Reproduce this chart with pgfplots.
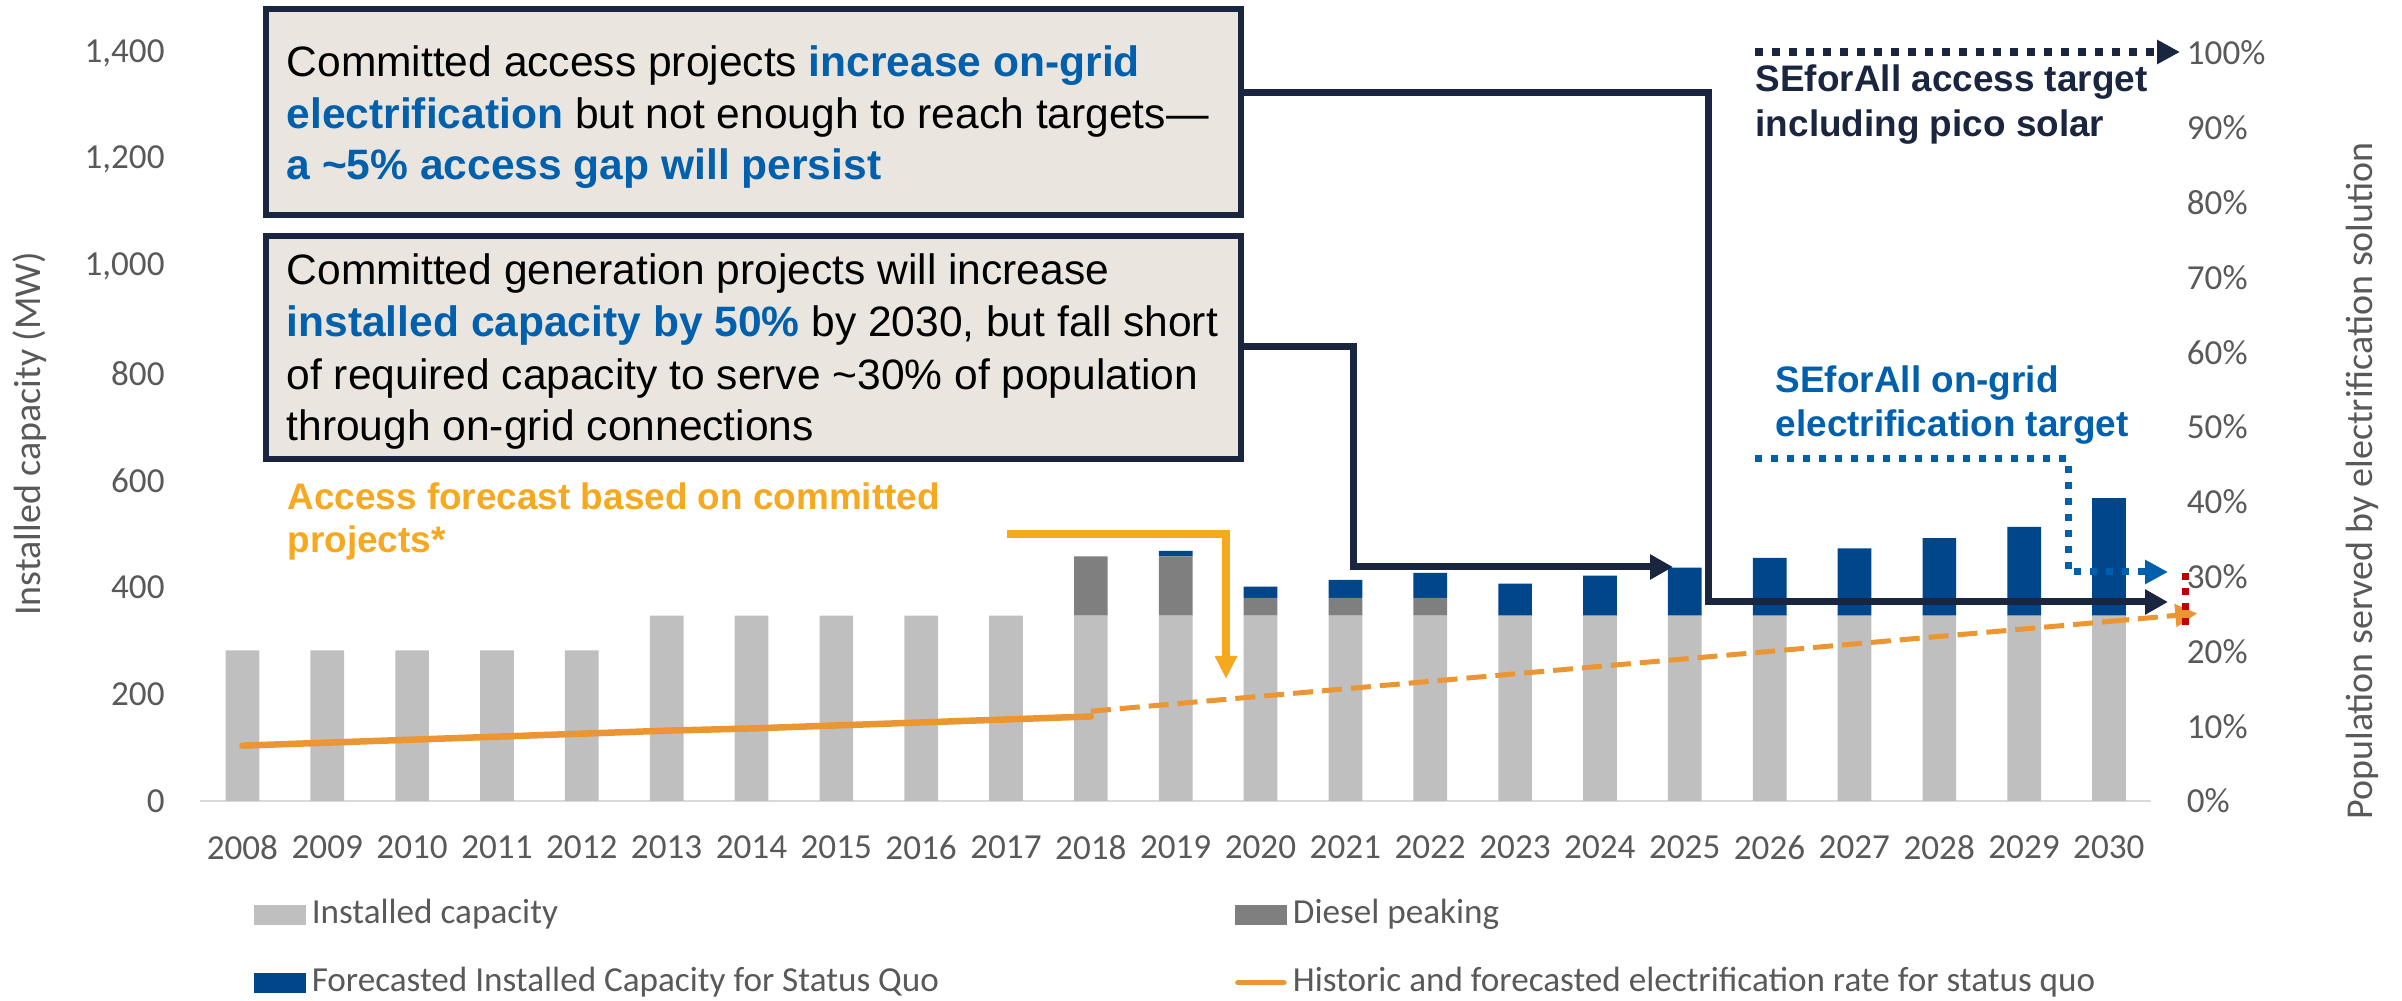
\documentclass[border=0pt]{standalone}
\usepackage{pgfplots}
\pgfplotsset{compat=1.18}
\usepackage{pgfplotstable}
\usepackage{fontspec}
\setmainfont{Carlito}
\newfontfamily\arialf{Liberation Sans}
\usetikzlibrary{arrows.meta}

\definecolor{instgray}{HTML}{BFBFBF}
\definecolor{dieselgray}{HTML}{7F7F7F}
\definecolor{fcblue}{HTML}{00468B}
\definecolor{lineorange}{HTML}{EB9632}
\definecolor{accorange}{HTML}{F6A81E}
\definecolor{textblue}{HTML}{0060AE}
\definecolor{navy}{HTML}{1A2540}
\definecolor{boxfill}{HTML}{EAE6DF}
\definecolor{tickgray}{HTML}{595959}
\definecolor{axisgray}{HTML}{D9D9D9}
\definecolor{dotred}{HTML}{C00000}

\pgfplotsset{barlegend/.style={legend image code/.code={\fill[##1] (0mm,-1mm) rectangle (5.2mm,1mm);}}}

\pgfplotstableread{
year inst diesel fcst
2008 282 0 0
2009 282 0 0
2010 282 0 0
2011 282 0 0
2012 282 0 0
2013 347 0 0
2014 347 0 0
2015 347 0 0
2016 347 0 0
2017 347 0 0
2018 347 111 0
2019 347 111 10
2020 347 33 21
2021 347 33 34
2022 347 33 47
2023 347 0 60
2024 347 0 75
2025 347 0 90
2026 347 0 108
2027 347 0 126
2028 347 0 145
2029 347 0 166
2030 347 0 220
}\capdata

\pgfplotstableread{
year rate
2008 7.4
2009 7.8
2010 8.2
2011 8.6
2012 9.0
2013 9.4
2014 9.7
2015 10.1
2016 10.5
2017 10.9
2018 11.3
}\histrate

\pgfplotstableread{
year rate
2018 12.0
2019 13.0
2020 14.0
2021 15.0
2022 16.0
2023 17.0
2024 18.0
2025 19.0
2026 20.0
2027 21.0
2028 22.0
2029 23.0
2030 24.0
}\fcastrate

\begin{document}
\begin{tikzpicture}
\begin{axis}[
  scale only axis, width=195.15mm, height=74.8mm,
  xmin=2007.5, xmax=2030.5, ymin=0, ymax=1400,
  ybar stacked, bar width=3.37mm,
  xtick={2008,2009,...,2030}, ytick={0,200,...,1400},
  axis x line*=bottom, axis y line*=left,
  x axis line style={draw=axisgray, line width=0.25mm},
  y axis line style={draw=none},
  major tick length=0pt,
  tick label style={font=\fontsize{10}{12}\selectfont, text=tickgray, /pgf/number format/assume math mode=true},
  x tick label style={/pgf/number format/1000 sep={}, yshift=-2.25mm},
  y tick label style={/pgf/number format/1000 sep={,}, xshift=-2.3mm},
  ylabel={Installed capacity (MW)},
  ylabel style={at={(axis description cs:-0.0871,0.491)}, anchor=center, font=\fontsize{10.8}{13}\selectfont, text=tickgray},
  legend columns=2,
  legend cell align=left,
  legend style={at={(axis description cs:0.0272,-0.1303)}, anchor=north west, draw=none, fill=none, inner sep=0pt,
    font=\fontsize{10}{12}\selectfont, text=tickgray, row sep=3.7mm,
    nodes={inner xsep=0.6mm, inner ysep=0pt, text height=2.4mm, text depth=0.7mm},
    /tikz/every even column/.append style={column sep=29mm}},
]
\addplot[fill=instgray, draw=none, barlegend] table[x=year, y=inst]{\capdata};
\addlegendentry{Installed capacity}
\addplot[fill=dieselgray, draw=none, barlegend] table[x=year, y=diesel]{\capdata};
\addlegendentry{Diesel peaking}
\addplot[fill=fcblue, draw=none, barlegend] table[x=year, y=fcst]{\capdata};
\addlegendentry{Forecasted Installed Capacity for Status Quo}
\addlegendimage{legend image code/.code={\draw[lineorange, line width=0.55mm, line cap=round] (0.3mm,0mm) -- (4.9mm,0mm);}}
\addlegendentry{Historic and forecasted electrification rate for status quo}
\end{axis}

\begin{axis}[
  scale only axis, width=195.15mm, height=74.8mm,
  xmin=2007.5, xmax=2030.5, ymin=0, ymax=100,
  axis x line=none, axis y line*=right,
  y axis line style={draw=none},
  major tick length=0pt, ytick={0,10,...,100},
  yticklabel={\pgfmathprintnumber{\tick}\%},
  y tick label style={font=\fontsize{10}{12}\selectfont, text=tickgray, xshift=2.3mm, /pgf/number format/assume math mode=true},
  ylabel={Population served by electrification solution},
  ylabel style={at={(axis description cs:1.108,0.428)}, anchor=center, font=\fontsize{10.8}{13}\selectfont, text=tickgray},
  clip=false,
]
\addplot[draw=lineorange, line width=0.65mm, line cap=round] table[x=year, y=rate]{\histrate};
\addplot[draw=lineorange, line width=0.5mm, dash pattern=on 2mm off 0.9mm] table[x=year, y=rate]{\fcastrate};
\draw[lineorange, line width=0.5mm, dash pattern=on 2mm off 0.9mm, -{Triangle[length=2.2mm,width=2.2mm]}] (axis cs:2030,24) -- (axis cs:2031.04,25.07);
\end{axis}

\begin{scope}[x=0.1mm, y=-0.1mm, shift={(-20mm,80.1mm)}]
  % text boxes
  \draw[navy, line width=0.6mm, fill=boxfill] (266,9) rectangle (1241,215);
  \draw[navy, line width=0.6mm, fill=boxfill] (266,236) rectangle (1241,459);
  \begin{scope}[every node/.style={anchor=base west, inner sep=0pt, font=\arialf\fontsize{12.1}{14.5}\selectfont}]
    \node at (286,77) {Committed access projects \textbf{\color{textblue}increase on-grid}};
    \node at (286,129) {\textbf{\color{textblue}electrification} but not enough to reach targets—};
    \node at (286,180) {\textbf{\color{textblue}a \textasciitilde5\% access gap will persist}};
    \node at (286,285) {Committed generation projects will increase};
    \node at (286,337) {\textbf{\color{textblue}installed capacity by 50\%} by 2030, but fall short};
    \node at (286,390) {of required capacity to serve \textasciitilde30\% of population};
    \node at (286,441) {through on-grid connections};
  \end{scope}
  % connectors
  \draw[navy, line width=0.7mm, -{Triangle[length=2.3mm,width=2.4mm]}] (1244,93) -- (1708,93) -- (1708,602) -- (2168,602);
  \draw[navy, line width=0.7mm, -{Triangle[length=2.3mm,width=2.4mm]}] (1244,347) -- (1353,347) -- (1353,567) -- (1673,567);
  \draw[accorange, line width=0.75mm, -{Triangle[length=2.3mm,width=2.1mm]}] (1007,534) -- (1226,534) -- (1226,679);
  % target lines
  \draw[navy, line width=0.8mm, dash pattern=on 0.8mm off 0.9mm, -{Triangle[length=2.3mm,width=2.3mm]}] (1755,52) -- (2180,52);
  \draw[textblue, line width=0.7mm, dash pattern=on 0.7mm off 0.9mm, -{Triangle[length=2.3mm,width=2.3mm]}] (1755,459) -- (2068,459) -- (2068,572) -- (2168,572);
  \draw[dotred, line width=0.7mm, dash pattern=on 0.7mm off 0.8mm] (2185,573) -- (2185,626);
  % labels
  \begin{scope}[every node/.style={anchor=base west, inner sep=0pt, font=\arialf\bfseries\fontsize{10.5}{12.6}\selectfont}]
    \node[text=accorange] at (287,510) {Access forecast based on committed};
    \node[text=accorange] at (287,553) {projects*};
    \node[text=navy] at (1755,92) {SEforAll access target};
    \node[text=navy] at (1755,137) {including pico solar};
    \node[text=textblue] at (1775,393) {SEforAll on-grid};
    \node[text=textblue] at (1775,437) {electrification target};
  \end{scope}
  \pgfresetboundingbox
  \path[use as bounding box] (0,0) rectangle (2402,1001);
\end{scope}
\end{tikzpicture}
\end{document}
